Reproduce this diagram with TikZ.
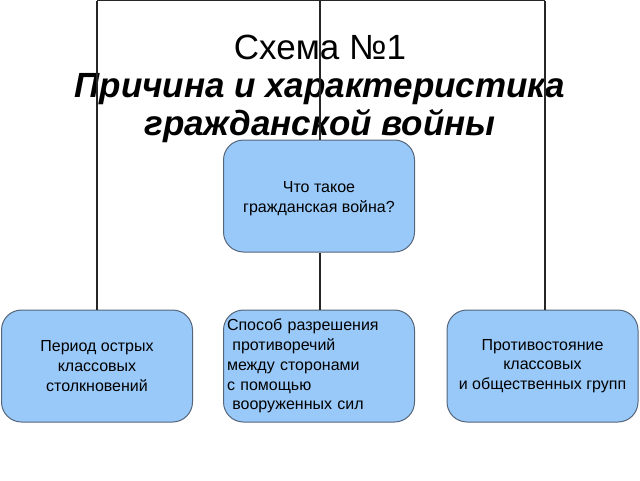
\documentclass[tikz,border=0pt]{standalone}
\usepackage{fontspec}
\setmainfont{Liberation Sans}
\usetikzlibrary{positioning}
\definecolor{boxfill}{HTML}{99C9F9}
\definecolor{boxline}{HTML}{55657A}
\tikzset{
	schemebox/.style={draw=boxline, line width=1pt, fill=boxfill, rounded corners=20pt, inner sep=0pt, font=\fontsize{16}{19.8}\selectfont},
	link/.style={draw=black!85, line width=1.3pt}
}

\begin{document}
\begin{tikzpicture}[x=1pt,y=-1pt]
	\pgfmathsetmacro{\BoxW}{191}
	\pgfmathsetmacro{\BoxH}{112}
	\pgfmathsetmacro{\TopY}{0.8}
	\useasboundingbox (0,0) rectangle (640,480);
	% TITLE
	\node[font=\fontsize{35}{38}\selectfont, align=center] (title) at (320,89) {Схема №1\\ \textbf{\textit{Причина и характеристика}}\\ \textbf{\textit{гражданской войны}}};
	% LINES FROM ABOVE
	\coordinate (topL) at (97,\TopY);
	\coordinate (topM) at (320,\TopY);
	\coordinate (topR) at (545,\TopY);
	% BOXES
	\node[schemebox, minimum width=\BoxW pt, minimum height=\BoxH pt, align=center] (what) at (319,196) {\\[-4pt]Что такое\\ гражданская война?};
	\node[schemebox, minimum width=\BoxW pt, minimum height=\BoxH pt, align=center] (period) at (97,366) {Период острых\\классовых\\столкновений};
	\node[schemebox, minimum width=\BoxW pt, minimum height=\BoxH pt, align=left, text width=184pt] (method) at (319,366) {Способ разрешения\\ \ противоречий\\между сторонами\\с помощью\\ \ вооруженных сил};
	\node[schemebox, minimum width=\BoxW pt, minimum height=\BoxH pt, align=center] (oppos) at (542.5,366) {Противостояние\\классовых\\ и общественных групп};
	% CONNECTORS
	\draw[link] (topL) -- (topR);
	\draw[link] (topL) -- (period.north -| topL);
	\draw[link] (topM) -- (what.north -| topM);
	\draw[link] (topR) -- (oppos.north -| topR);
	\draw[link] (what.south -| topM) -- (method.north -| topM);
\end{tikzpicture}
\end{document}
